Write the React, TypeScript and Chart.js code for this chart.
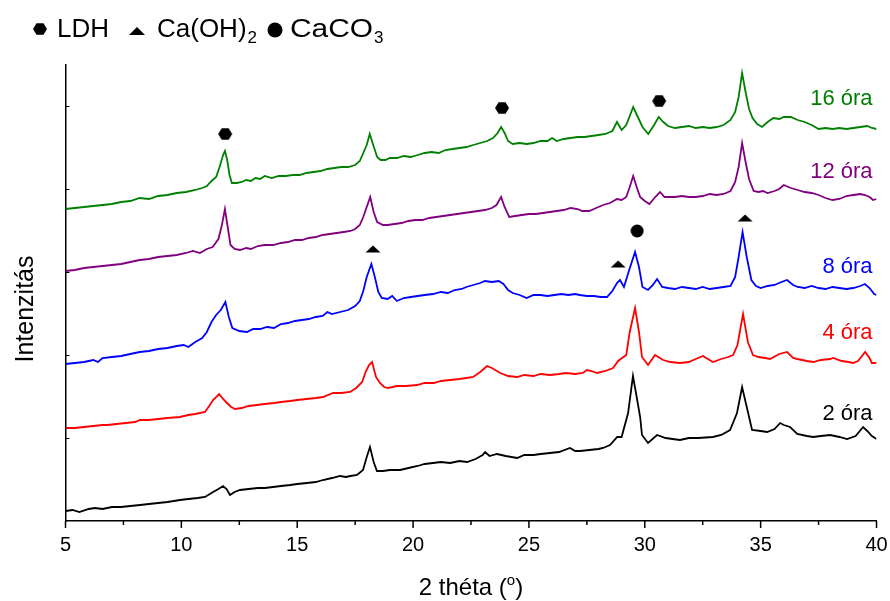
import React, { useEffect, useRef } from "react";
import { Chart, registerables } from "chart.js";

Chart.register(...registerables);

// 2θ (degrees), intensity (arbitrary, stacked offset units)
const s2h: [number, number][] = [
  [5.0, 6], [5.3, 7], [5.6, 5], [6.0, 8], [6.27, 9], [6.6, 8], [7.0, 10], [7.4, 10], [7.8, 11], [8.22, 12],
  [8.6, 13], [9.0, 14], [9.4, 15], [9.94, 17], [10.3, 18], [10.7, 19], [11.02, 20], [11.37, 25], [11.6, 28],
  [11.8, 31], [11.95, 28], [12.1, 22], [12.3, 25], [12.53, 27], [12.9, 28], [13.3, 29], [13.6, 29], [13.96, 30],
  [14.3, 31], [14.7, 32], [15.0, 33], [15.42, 34], [15.8, 35], [16.11, 37], [16.5, 39], [16.85, 41], [17.1, 40],
  [17.3, 41], [17.58, 42], [17.84, 47], [18.0, 60], [18.14, 70], [18.3, 55], [18.44, 46], [18.7, 46], [19.0, 47],
  [19.44, 47], [19.8, 49], [20.2, 51], [20.5, 53], [20.86, 54], [21.2, 55], [21.6, 54], [22.0, 56], [22.33, 55],
  [22.7, 58], [23.0, 62], [23.11, 65], [23.3, 61], [23.62, 63], [24.0, 61], [24.49, 59], [24.8, 62], [25.2, 62],
  [25.5, 63], [25.91, 64], [26.3, 65], [26.77, 69], [27.0, 66], [27.21, 66], [27.6, 67], [28.0, 68], [28.2, 69],
  [28.5, 72], [28.81, 80], [29.0, 80], [29.28, 104], [29.49, 141], [29.65, 120], [29.8, 100], [29.88, 82],
  [30.14, 74], [30.53, 82], [30.9, 79], [31.2, 78], [31.52, 77], [31.9, 79], [32.3, 79], [32.94, 80], [33.3, 82],
  [33.68, 87], [33.98, 104], [34.2, 130], [34.4, 110], [34.63, 87], [35.0, 86], [35.28, 85], [35.6, 88],
  [35.84, 94], [36.0, 92], [36.27, 90], [36.58, 83], [37.0, 81], [37.27, 80], [37.6, 81], [38.0, 82], [38.4, 80],
  [38.73, 78], [39.1, 81], [39.42, 90], [39.6, 86], [39.8, 81], [40.0, 78],
];

const s4h: [number, number][] = [
  [5.0, 89], [5.4, 89], [5.8, 90], [6.2, 91], [6.6, 92], [6.8, 92], [7.2, 93], [7.6, 94], [8.0, 95], [8.22, 97],
  [8.6, 97], [9.0, 98], [9.4, 99], [9.94, 100], [10.3, 102], [10.6, 103], [11.02, 105], [11.2, 111], [11.37, 117],
  [11.63, 123], [11.8, 118], [11.97, 114], [12.15, 110], [12.32, 108], [12.6, 109], [12.9, 111], [13.26, 112],
  [13.6, 113], [14.0, 114], [14.3, 115], [14.69, 116], [15.0, 117], [15.4, 118], [15.8, 119], [16.11, 120],
  [16.55, 124], [16.9, 124], [17.28, 125], [17.55, 129], [17.8, 135], [17.95, 145], [18.1, 152], [18.23, 155],
  [18.4, 140], [18.57, 134], [18.75, 130], [18.92, 129], [19.3, 131], [19.7, 131], [20.17, 132], [20.5, 134],
  [20.9, 134], [21.2, 136], [21.6, 137], [22.0, 138], [22.3, 139], [22.59, 140], [22.9, 145], [23.19, 151],
  [23.4, 149], [23.76, 144], [24.1, 141], [24.49, 140], [24.8, 142], [25.2, 141], [25.5, 143], [25.91, 142],
  [26.3, 143], [26.6, 144], [27.0, 143], [27.33, 144], [27.5, 147], [27.7, 146], [27.94, 144], [28.3, 146],
  [28.63, 149], [28.85, 156], [29.02, 159], [29.2, 162], [29.35, 185], [29.58, 209], [29.75, 185], [29.88, 160],
  [30.14, 152], [30.44, 162], [30.79, 157], [31.1, 155], [31.52, 154], [31.9, 155], [32.2, 158], [32.51, 161],
  [32.94, 155], [33.3, 158], [33.6, 160], [33.81, 162], [34.0, 172], [34.24, 203], [34.45, 175], [34.67, 162],
  [34.9, 160], [35.2, 159], [35.41, 158], [35.8, 163], [36.14, 165], [36.4, 159], [36.58, 158], [37.0, 156],
  [37.27, 155], [37.6, 157], [38.0, 158], [38.13, 159], [38.5, 156], [38.8, 155], [38.99, 154], [39.2, 156],
  [39.51, 165], [39.7, 159], [39.8, 154], [40.0, 154],
];

const s8h: [number, number][] = [
  [5.0, 153], [5.4, 154], [5.8, 155], [6.2, 157], [6.4, 155], [6.6, 159], [7.0, 160], [7.4, 161], [7.8, 163],
  [8.2, 165], [8.6, 166], [9.0, 168], [9.4, 169], [9.8, 171], [10.1, 172], [10.3, 170], [10.6, 175], [10.9, 179],
  [11.1, 185], [11.3, 195], [11.5, 202], [11.7, 207], [11.9, 215], [12.05, 200], [12.2, 189], [12.5, 186],
  [12.83, 185], [13.1, 188], [13.4, 188], [13.7, 190], [14.0, 189], [14.3, 193], [14.6, 194], [14.9, 196],
  [15.2, 197], [15.5, 198], [15.8, 200], [16.1, 201], [16.3, 205], [16.5, 203], [16.85, 205], [17.2, 207],
  [17.5, 211], [17.7, 216], [17.85, 226], [18.0, 240], [18.2, 253], [18.35, 240], [18.5, 225], [18.65, 219],
  [18.9, 218], [19.1, 221], [19.3, 216], [19.6, 219], [19.9, 220], [20.2, 221], [20.5, 222], [20.86, 223],
  [21.2, 225], [21.5, 224], [21.8, 227], [22.1, 228], [22.3, 230], [22.6, 232], [22.9, 234], [23.1, 236],
  [23.4, 235], [23.7, 236], [23.9, 233], [24.1, 227], [24.3, 224], [24.6, 222], [24.9, 219], [25.2, 222],
  [25.5, 222], [25.8, 221], [26.1, 222], [26.4, 223], [26.7, 222], [27.0, 223], [27.2, 222], [27.5, 221],
  [27.8, 221], [28.1, 220], [28.37, 220], [28.6, 226], [28.8, 234], [28.93, 237], [29.1, 230], [29.3, 245],
  [29.58, 265], [29.75, 250], [29.9, 230], [30.14, 227], [30.35, 232], [30.53, 238], [30.75, 230], [31.0, 229],
  [31.3, 228], [31.6, 230], [31.9, 229], [32.2, 228], [32.5, 230], [32.8, 228], [33.1, 229], [33.4, 230],
  [33.7, 231], [33.9, 240], [34.05, 260], [34.22, 285], [34.4, 260], [34.6, 237], [34.8, 231], [35.0, 229],
  [35.3, 231], [35.6, 232], [35.9, 235], [36.14, 237], [36.4, 232], [36.6, 230], [36.9, 229], [37.2, 231],
  [37.5, 229], [37.8, 228], [38.1, 230], [38.4, 229], [38.7, 228], [39.0, 229], [39.3, 231], [39.5, 233],
  [39.7, 229], [39.9, 223], [40.0, 222],
];

const s12h: [number, number][] = [
  [5.0, 246], [5.4, 247], [5.8, 249], [6.2, 250], [6.6, 251], [7.0, 252], [7.4, 253], [7.8, 255], [8.2, 257],
  [8.6, 258], [9.0, 260], [9.4, 261], [9.8, 262], [10.2, 264], [10.5, 266], [10.8, 264], [11.1, 268],
  [11.35, 270], [11.6, 278], [11.75, 292], [11.88, 308], [12.0, 290], [12.12, 272], [12.3, 268], [12.53, 267],
  [12.8, 269], [13.0, 268], [13.3, 271], [13.6, 272], [13.96, 272], [14.3, 274], [14.6, 275], [14.9, 277],
  [15.2, 277], [15.5, 279], [15.8, 280], [16.1, 282], [16.4, 283], [16.7, 284], [17.0, 285], [17.3, 286],
  [17.5, 288], [17.7, 292], [17.85, 300], [18.0, 310], [18.15, 320], [18.3, 305], [18.45, 295], [18.7, 292],
  [18.9, 292], [19.2, 293], [19.5, 294], [19.8, 296], [20.1, 297], [20.4, 297], [20.7, 299], [21.0, 300],
  [21.3, 301], [21.6, 302], [21.9, 303], [22.2, 304], [22.5, 305], [22.8, 306], [23.1, 307], [23.4, 309],
  [23.6, 312], [23.8, 320], [23.95, 310], [24.15, 300], [24.4, 301], [24.7, 302], [25.0, 303], [25.3, 303],
  [25.6, 304], [25.9, 305], [26.2, 306], [26.5, 307], [26.8, 309], [27.1, 308], [27.3, 306], [27.6, 306],
  [27.9, 309], [28.2, 312], [28.5, 314], [28.8, 318], [29.0, 317], [29.2, 320], [29.35, 330], [29.5, 341],
  [29.65, 330], [29.8, 320], [30.0, 316], [30.2, 313], [30.45, 320], [30.66, 325], [30.85, 320], [31.0, 320],
  [31.3, 320], [31.6, 321], [31.9, 320], [32.2, 320], [32.5, 321], [32.8, 323], [33.1, 322], [33.4, 323],
  [33.7, 326], [33.9, 335], [34.05, 350], [34.2, 374], [34.35, 355], [34.5, 338], [34.7, 326], [34.9, 325],
  [35.1, 326], [35.3, 324], [35.6, 326], [35.8, 328], [36.0, 332], [36.3, 329], [36.6, 327], [36.9, 325],
  [37.2, 324], [37.5, 322], [37.8, 319], [38.1, 317], [38.4, 318], [38.7, 321], [39.0, 322], [39.3, 323],
  [39.5, 322], [39.7, 320], [39.85, 317], [40.0, 318],
];

const s16h: [number, number][] = [
  [5.0, 308], [5.4, 309], [5.8, 310], [6.2, 311], [6.6, 312], [7.0, 313], [7.4, 315], [7.8, 316], [8.2, 319],
  [8.6, 318], [9.0, 321], [9.4, 322], [9.8, 324], [10.2, 325], [10.6, 327], [10.9, 329], [11.1, 331],
  [11.3, 336], [11.5, 340], [11.65, 350], [11.8, 362], [11.88, 366], [11.97, 358], [12.08, 342], [12.18, 334],
  [12.4, 334], [12.6, 335], [12.8, 337], [13.0, 336], [13.2, 339], [13.4, 338], [13.6, 341], [13.9, 339],
  [14.2, 341], [14.5, 341], [14.8, 342], [15.1, 342], [15.4, 344], [15.7, 345], [16.0, 346], [16.3, 348],
  [16.6, 349], [16.9, 350], [17.2, 350], [17.5, 352], [17.7, 356], [17.85, 364], [18.0, 372], [18.13, 383],
  [18.28, 372], [18.45, 360], [18.6, 357], [18.8, 357], [19.0, 359], [19.3, 359], [19.6, 361], [19.9, 360],
  [20.2, 362], [20.5, 364], [20.8, 365], [21.1, 364], [21.4, 367], [21.7, 368], [22.0, 369], [22.3, 370],
  [22.6, 372], [22.9, 374], [23.2, 376], [23.45, 379], [23.65, 384], [23.8, 390], [23.95, 384], [24.1, 376],
  [24.3, 373], [24.6, 374], [24.9, 373], [25.2, 374], [25.5, 376], [25.8, 376], [26.0, 379], [26.2, 376],
  [26.5, 378], [26.8, 379], [27.1, 380], [27.4, 380], [27.7, 381], [28.0, 382], [28.3, 383], [28.6, 386],
  [28.8, 395], [29.0, 387], [29.2, 392], [29.5, 410], [29.7, 400], [29.9, 390], [30.15, 383], [30.4, 392],
  [30.6, 400], [30.8, 395], [31.0, 391], [31.3, 389], [31.6, 390], [31.9, 391], [32.2, 389], [32.5, 390],
  [32.8, 389], [33.1, 390], [33.4, 392], [33.7, 397], [33.9, 405], [34.05, 420], [34.2, 444], [34.35, 425],
  [34.5, 408], [34.65, 399], [34.85, 393], [35.06, 390], [35.3, 395], [35.55, 399], [35.8, 398], [36.0, 400],
  [36.3, 400], [36.6, 397], [36.9, 395], [37.2, 392], [37.5, 388], [37.8, 389], [38.1, 388], [38.4, 389],
  [38.7, 388], [39.0, 389], [39.3, 390], [39.6, 391], [39.8, 389], [40.0, 388],
];

const seriesData = [s2h, s4h, s8h, s12h, s16h];
const seriesNames = ["2 óra", "4 óra", "8 óra", "12 óra", "16 óra"];
const seriesColors = ["#000000", "#ff0000", "#0000ff", "#800080", "#008000"];
const labelX = 39.83;
const labelY = [97, 178, 244, 339, 412];

// phase markers
const ldhX = [11.89, 23.84, 30.62];
const ldhY = [383, 409, 416];
const caohX = [18.27, 28.85, 34.33];
const caohY = [268, 253, 299];
const caco3X = [29.67];
const caco3Y = [286];

const xMin = 5;
const xMax = 40;
const yMin = -4;
const yMax = 452;
const xMinorTicks = [7.5, 12.5, 17.5, 22.5, 27.5, 32.5, 37.5];
const yTickValues = [79, 162, 245, 328, 411];

const FONT = "'Liberation Sans', Arial, Helvetica, sans-serif";

function hexPath(ctx: CanvasRenderingContext2D, cx: number, cy: number, r: number) {
  ctx.beginPath();
  for (let k = 0; k < 6; k++) {
    const a = (Math.PI / 3) * k;
    const px = cx + r * Math.cos(a);
    const py = cy + r * Math.sin(a) * 0.93;
    if (k === 0) ctx.moveTo(px, py);
    else ctx.lineTo(px, py);
  }
  ctx.closePath();
}
function triPath(ctx: CanvasRenderingContext2D, cx: number, cy: number, w: number, h: number) {
  ctx.beginPath();
  ctx.moveTo(cx - w / 2, cy + h / 2);
  ctx.lineTo(cx, cy - h / 2);
  ctx.lineTo(cx + w / 2, cy + h / 2);
  ctx.closePath();
}

function makeShape(kind: string): HTMLCanvasElement {
  const c = document.createElement("canvas");
  const ctx = c.getContext("2d") as CanvasRenderingContext2D;
  if (kind === "hex") {
    c.width = 16; c.height = 16;
    ctx.fillStyle = "#000";
    hexPath(ctx, 8, 8, 7);
    ctx.fill();
  } else if (kind === "tri") {
    c.width = 16; c.height = 8;
    ctx.fillStyle = "#000";
    triPath(ctx, 8, 4, 15, 7);
    ctx.fill();
  } else {
    c.width = 14; c.height = 14;
    ctx.fillStyle = "#000";
    ctx.beginPath();
    ctx.arc(7, 7, 6.5, 0, Math.PI * 2);
    ctx.fill();
  }
  return c;
}

const decorPlugin = {
  id: "decor",
  afterDraw(chart: any) {
    const ctx: CanvasRenderingContext2D = chart.ctx;
    const xs = chart.scales.x;
    const ys = chart.scales.y;
    const ca = chart.chartArea;
    ctx.save();
    ctx.strokeStyle = "#000";
    ctx.lineWidth = 1.5;
    // x major + minor ticks (outward)
    for (let v = xMin; v <= xMax + 1e-6; v += 5) {
      const px = xs.getPixelForValue(v);
      ctx.beginPath();
      ctx.moveTo(px, ca.bottom);
      ctx.lineTo(px, ca.bottom + 7);
      ctx.stroke();
    }
    for (const v of xMinorTicks) {
      const px = xs.getPixelForValue(v);
      ctx.beginPath();
      ctx.moveTo(px, ca.bottom);
      ctx.lineTo(px, ca.bottom + 4);
      ctx.stroke();
    }
    // y ticks (inward)
    ctx.lineWidth = 1;
    for (const v of yTickValues) {
      const py = Math.round(ys.getPixelForValue(v)) + 0.5;
      ctx.beginPath();
      ctx.moveTo(ca.left, py);
      ctx.lineTo(ca.left + 4, py);
      ctx.stroke();
    }

    // series labels
    ctx.font = `22px ${FONT}`;
    ctx.textAlign = "right";
    ctx.textBaseline = "alphabetic";
    seriesNames.forEach((name, i) => {
      ctx.fillStyle = seriesColors[i];
      ctx.fillText(name, xs.getPixelForValue(labelX), ys.getPixelForValue(labelY[i]));
    });

    // legend
    ctx.fillStyle = "#000";
    ctx.textAlign = "left";
    hexPath(ctx, 40, 29, 7);
    ctx.fill();
    const base = 37;
    ctx.font = `26px ${FONT}`;
    ctx.fillText("LDH", 57, base);
    triPath(ctx, 137, 31, 16, 8);
    ctx.fill();
    ctx.font = `26px ${FONT}`;
    ctx.fillText("Ca(OH)", 157, base);
    let x = 157 + ctx.measureText("Ca(OH)").width;
    ctx.font = `17px ${FONT}`;
    ctx.fillText("2", x + 1, base + 6);
    ctx.beginPath();
    ctx.arc(275, 30, 7.5, 0, Math.PI * 2);
    ctx.fill();
    ctx.font = `26px ${FONT}`;
    ctx.save();
    ctx.translate(290, base);
    ctx.scale(1.15, 1);
    ctx.fillText("CaCO", 0, 0);
    x = 290 + ctx.measureText("CaCO").width * 1.15;
    ctx.restore();
    ctx.font = `17px ${FONT}`;
    ctx.fillText("3", x + 1, base + 6);

    // x axis title: 2 théta (°)
    ctx.font = `24px ${FONT}`;
    const p1 = "2 théta (";
    const p3 = ")";
    const w1 = ctx.measureText(p1).width;
    const w3 = ctx.measureText(p3).width;
    ctx.font = `15px ${FONT}`;
    const w2 = ctx.measureText("o").width;
    const total = w1 + w2 + w3;
    let tx = (ca.left + ca.right) / 2 - total / 2;
    const tb = 595;
    ctx.font = `24px ${FONT}`;
    ctx.fillText(p1, tx, tb);
    tx += w1;
    ctx.font = `15px ${FONT}`;
    ctx.fillText("o", tx, tb - 10);
    tx += w2;
    ctx.font = `24px ${FONT}`;
    ctx.fillText(p3, tx, tb);

    // y axis title
    ctx.save();
    ctx.translate(33, 309);
    ctx.rotate(-Math.PI / 2);
    ctx.textAlign = "center";
    ctx.font = `25px ${FONT}`;
    ctx.fillText("Intenzitás", 0, 0);
    ctx.restore();

    ctx.restore();
  },
};

export default function App() {
  const ref = useRef<HTMLCanvasElement | null>(null);
  useEffect(() => {
    document.body.style.margin = "0";
    const canvas = ref.current;
    if (!canvas) return;
    const hex = makeShape("hex");
    const tri = makeShape("tri");
    const circ = makeShape("circle");
    const lineSets = seriesData.map((s, i) => ({
      label: seriesNames[i],
      data: s.map(([x, y]) => ({ x, y })),
      borderColor: seriesColors[i],
      backgroundColor: seriesColors[i],
      borderWidth: 1.8,
      pointRadius: 0,
      tension: 0,
      fill: false,
    }));
    const markerSet = (xsArr: number[], ysArr: number[], img: HTMLCanvasElement, label: string) => ({
      label,
      data: xsArr.map((x, i) => ({ x, y: ysArr[i] })),
      showLine: false,
      pointStyle: img,
      pointRadius: 7,
      borderWidth: 0,
      backgroundColor: "#000",
      borderColor: "#000",
    });
    const chart = new Chart(canvas, {
      type: "line",
      data: {
        datasets: [
          ...lineSets,
          markerSet(ldhX, ldhY, hex, "LDH"),
          markerSet(caohX, caohY, tri, "Ca(OH)2"),
          markerSet(caco3X, caco3Y, circ, "CaCO3"),
        ] as any,
      },
      options: {
        responsive: false,
        animation: false,
        layout: { padding: { left: 0, top: 65, right: 13.5, bottom: 0 } },
        plugins: { legend: { display: false }, tooltip: { enabled: false } },
        scales: {
          x: {
            type: "linear",
            min: xMin,
            max: xMax,
            ticks: {
              stepSize: 5,
              font: { family: FONT, size: 20 },
              color: "#000",
              padding: 12,
              maxRotation: 0,
              autoSkip: false,
            },
            grid: { display: true, drawOnChartArea: false, drawTicks: false },
            border: { display: true, color: "#000", width: 1.5 },
            afterFit: (s: any) => {
              s.height = 80;
              s.paddingLeft = 0;
              s.paddingRight = 0;
            },
          },
          y: {
            type: "linear",
            min: yMin,
            max: yMax,
            ticks: { display: false },
            grid: { display: true, drawOnChartArea: false, drawTicks: false },
            border: { display: true, color: "#000", width: 1.5 },
            afterFit: (s: any) => {
              s.width = 65.5;
              s.paddingTop = 0;
              s.paddingBottom = 0;
            },
          },
        },
      } as any,
      plugins: [decorPlugin],
    });
    return () => chart.destroy();
  }, []);
  return (
    <div style={{ position: "absolute", left: 0, top: 0, width: 890, height: 601, background: "#fff" }}>
      <canvas ref={ref} width={890} height={601} style={{ width: 890, height: 601, display: "block" }} />
    </div>
  );
}
